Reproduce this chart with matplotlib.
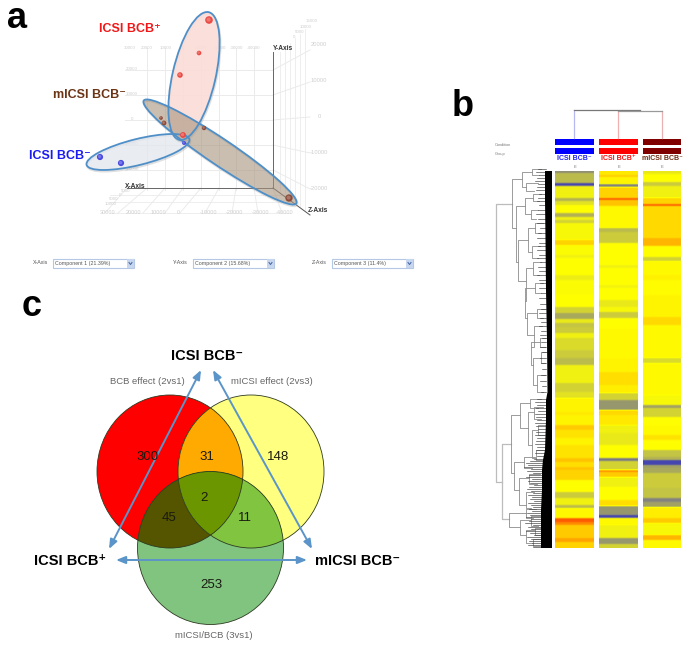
import numpy as np
import matplotlib
matplotlib.use("Agg")
import matplotlib.pyplot as plt
from matplotlib.colors import LinearSegmentedColormap
from matplotlib.patches import Ellipse, Polygon, Rectangle

plt.rcParams["font.family"] = ["Liberation Sans", "DejaVu Sans"]

# ---- panel a: PCA points and group ellipses
PCA_GROUPS = ["ICSI BCB⁻", "ICSI BCB⁺", "mICSI BCB⁻"]
PCA_COLORS = ["#4a4ae0", "#ea4a44", "#8c4a38"]
pca_x = [[100, 121, 184], [209, 199, 180, 183], [161, 164, 204, 289]]
pca_y = [[157, 163, 143], [20, 53, 75, 135], [118, 123, 128, 198]]
pca_s = [[20, 20, 8], [30, 11, 16, 18], [7, 12, 10, 28]]

ell_cx = [138, 194, 220]
ell_cy = [152, 76, 152]
ell_len = [106, 131, 184]
ell_wid = [26, 43, 26]
ell_ang = [-14, -77, 34]
ell_fill = ["#e2e7ee", "#fadcd6", "#a8937c"]
ell_alpha = [0.75, 0.9, 0.6]

back_v = [147, 165, 183, 201, 219, 236, 254]
back_h = [70, 95, 120, 145, 170]
top_ticks = ["30000", "20000", "10000", "0", "-10000", "-20000", "-30000", "-40000"]
top_ticks_x = [130, 147, 166, 183, 201, 219, 236, 254]
left_ticks = ["20000", "10000", "0", "-10000", "-20000"]
right_ticks = ["20000", "10000", "0", "-10000", "-20000"]
right_ticks_y = [45, 81, 117, 153, 189]
wall_end_y = [50, 82, 117, 153, 189]
bottom_ticks_x = [108, 133, 158, 178, 209, 234, 260, 285]
floor_end_x = [105, 118, 143, 165, 180, 205, 232, 258, 282]
floor_start_x = [127, 147, 165, 183, 201, 219, 236, 254, 273]
floor_h = [195, 202, 213]
wall_v = [280, 285, 290, 295, 300, 305]

combo_labels = ["X-Axis", "Y-Axis", "Z-Axis"]
combo_items = ["Component 1 (21.39%)", "Component 2 (15.68%)", "Component 3 (11.4%)"]
combo_x = [53, 193, 332]

# ---- panel b: heatmap bands, row edges in picture rows, one value per band
heat_names = ["ICSI BCB⁻", "ICSI BCB⁺", "mICSI BCB⁻"]
heat_colors = ["#0000ff", "#ff0000", "#800000"]
heat_label_colors = ["#2020f0", "#f01010", "#6b2c14"]
heat_x0 = [555, 599, 643]
heat_x1 = [594, 638, 681]

col1_edges = [171, 173, 183, 186, 198, 201, 205, 213, 217, 220, 223, 240, 245, 255, 258, 275,
              280, 295, 307, 313, 319, 323, 327, 333, 338, 350, 358, 365, 383, 392, 398,
              412, 415, 425, 430, 438, 445, 458, 462, 467, 470, 480, 492, 498, 505, 508,
              518, 522, 525, 538, 542, 548]
col1_vals = [-0.7, -0.45, -1.0, -0.1, -0.5, -0.2, 0.0, -0.5, -0.1, -0.3, -0.05, 0.4, -0.03,
             -0.1, 0.0, -0.12, -0.03, 0.0, -0.3, -0.55, -0.15, -0.4, -0.35, -0.1, -0.25,
             -0.35, -0.45, -0.1, -0.3, -0.2, 0.1, 0.2, 0.1, 0.45, 0.25, 0.1, 0.25, 0.5,
             0.3, 0.5, 0.4, 0.0, -0.35, -0.1, -0.45, 0.05, 1.0, 0.8, 0.45, 0.7, 0.4]
col2_edges = [171, 175, 177, 184, 187, 198, 200, 206, 228, 232, 243, 265, 268, 285, 288, 300,
              307, 312, 318, 328, 358, 372, 385, 393, 400, 410, 415, 425, 433, 445, 458,
              461, 470, 472, 477, 487, 500, 506, 515, 518, 525, 538, 544, 548]
col2_vals = [0.2, 0.45, 0.1, -0.75, 0.4, 1.0, 0.5, 0.05, -0.45, -0.35, 0.0, -0.1, 0.0, -0.08,
             0.0, -0.15, -0.05, -0.35, 0.0, 0.05, 0.1, 0.3, 0.15, -0.3, -0.65, 0.35, 0.2,
             -0.1, -0.15, 0.0, -0.8, -0.3, 0.8, 0.45, -0.1, 0.0, 0.3, -0.65, -1.0, 0.05,
             -0.1, -0.65, -0.3]
col3_edges = [171, 174, 182, 186, 198, 204, 206, 238, 246, 257, 261, 275, 280, 295, 317, 325,
              358, 363, 395, 405, 408, 417, 425, 435, 440, 450, 457, 460, 465, 468, 473,
              488, 498, 502, 507, 518, 523, 535, 540, 548]
col3_vals = [-0.15, 0.0, -0.35, -0.1, 0.4, 1.0, 0.35, 0.6, 0.0, -0.3, 0.05, 0.12, 0.03, 0.1,
             0.35, 0.05, -0.25, 0.05, -0.05, -0.6, -0.3, 0.0, 0.05, 0.25, 0.0, -0.4, -0.5,
             -1.0, -0.6, -0.55, -0.35, -0.4, -0.75, -0.6, 0.15, 0.45, -0.05, 0.6, 0.05]

# row dendrogram: node x, top y, bottom y, child x at top, child x at bottom
row_merges = [
    (496, 204, 482, 512, 502), (512, 179, 228, 522, 516), (522, 172, 187, 532, 526),
    (532, 169, 175, 541, 539), (526, 183, 191, 538, 534), (516, 206, 262, 525, 518),
    (525, 198, 214, 533, 531), (533, 194, 201, 541, 539), (531, 210, 219, 538, 536),
    (518, 240, 281, 528, 526), (528, 228, 252, 535, 532), (535, 223, 233, 543, 541),
    (532, 246, 258, 540, 538), (526, 268, 301, 533, 525), (533, 262, 275, 541, 539),
    (525, 288, 318, 535, 527), (535, 283, 293, 543, 541), (527, 313, 335, 537, 534),
    (537, 309, 318, 545, 543), (534, 326, 347, 542, 531), (531, 342, 365, 540, 533),
    (540, 338, 347, 546, 545), (533, 358, 385, 541, 537), (541, 352, 363, 547, 545),
    (537, 375, 392, 545, 543), (502, 444, 519, 511, 509), (511, 415, 473, 520, 514),
    (520, 403, 428, 530, 528), (530, 399, 408, 541, 538), (528, 412, 445, 534, 532),
    (534, 407, 419, 543, 541), (532, 430, 458, 538, 536), (538, 425, 435, 546, 544),
    (536, 450, 460, 544, 543), (514, 462, 490, 524, 519), (524, 457, 468, 535, 532),
    (519, 478, 505, 529, 526), (529, 474, 484, 540, 537), (526, 492, 508, 534, 531),
    (509, 513, 527, 526, 520), (526, 509, 518, 536, 533), (520, 520, 535, 531, 526),
    (531, 516, 526, 541, 538), (526, 530, 543, 535, 533), (535, 528, 535, 544, 542),
    (533, 539, 546, 543, 541),
]
comb_y = [171, 200, 240, 290, 340, 392, 400, 420, 450, 460, 470, 490, 510, 530, 548]
comb_x = [545, 545, 545.5, 546, 547, 547.5, 546, 546, 545, 543, 542, 542, 541, 541, 541]
# thin leaf lines running into the black comb: row, left end
hair_y = [169, 172, 175, 178, 181, 184, 187, 190, 194, 198, 201, 205, 210, 214, 219, 223, 228,
          233, 238, 243, 246, 250, 255, 258, 262, 267, 271, 275, 280, 283, 288, 293, 298, 304,
          309, 313, 318, 322, 326, 331, 335, 338, 342, 347, 352, 358, 363, 369, 375, 381, 386,
          392, 399, 402, 405, 408, 411, 414, 417, 420, 423, 426, 429, 432, 435, 438, 441, 444,
          447, 450, 453, 456, 459, 461, 463, 465, 467, 469, 471, 473, 475, 477, 479, 481, 483,
          485, 487, 489, 491, 493, 495, 497, 499, 501, 503, 505, 507, 509, 511, 513, 515, 517,
          519, 521, 523, 525, 527, 529, 531, 533, 535, 537, 539, 541, 543, 545, 547]
hair_x = [538, 536, 539, 537, 535, 538, 537, 536, 539, 538, 537, 539, 538, 536, 538, 537, 540,
          538, 537, 539, 538, 537, 539, 537, 540, 538, 539, 537, 539, 540, 539, 541, 539, 540,
          541, 539, 540, 541, 539, 541, 540, 542, 541, 540, 542, 540, 541, 542, 541, 540, 542,
          541, 537, 535, 537, 536, 538, 535, 536, 537, 535, 536, 538, 536, 535, 537, 536, 535,
          537, 536, 535, 537, 534, 530, 526, 528, 524, 531, 527, 533, 529, 526, 532, 528, 530,
          534, 529, 527, 531, 533, 528, 532, 530, 534, 528, 531, 533, 529, 532, 527, 530, 526,
          531, 529, 525, 533, 528, 531, 526, 530, 534, 527, 531, 529, 532, 528, 533]

# ---- panel c: venn circles and counts
venn_cx = [170, 251, 210.5]
venn_cy = [471.5, 471.5, 548]
venn_w = [146, 146, 146]
venn_h = [153, 153, 153]
venn_counts = ["300", "31", "148", "2", "45", "11", "253"]
venn_count_x = [148, 207, 278, 204, 169, 245, 211]
venn_count_y = [457, 457, 457, 498, 518, 518, 585]
venn_titles = ["BCB effect (2vs1)", "mICSI effect (2vs3)", "mICSI/BCB (3vs1)"]
venn_title_x = [147, 272, 214]
venn_title_y = [382, 382, 636]
arrow_start_x = [109, 213, 116]
arrow_start_y = [549, 370, 560]
arrow_end_x = [201, 312, 307]
arrow_end_y = [370, 549, 560]

fig = plt.figure(figsize=(6.97, 6.46), dpi=100)
ax = fig.add_axes([0, 0, 1, 1])
ax.set_xlim(0, 697)
ax.set_ylim(646, 0)
ax.axis("off")


def txt(x, y, s, size, color="black", weight="normal", ha="center", va="center", **kw):
    ax.text(x, y, s, fontsize=size, color=color, fontweight=weight, ha=ha, va=va, **kw)


def ellipse_points(i):
    t = np.linspace(0, 2 * np.pi, 400)
    return venn_cx[i] + venn_w[i] / 2 * np.cos(t), venn_cy[i] + venn_h[i] / 2 * np.sin(t)


def inside(x, y, i):
    return ((x - venn_cx[i]) / (venn_w[i] / 2)) ** 2 + ((y - venn_cy[i]) / (venn_h[i] / 2)) ** 2 <= 1


def region(ids):
    # intersection of the circles: keep boundary points inside all others, sort round the middle
    xs, ys = [], []
    for i in ids:
        x, y = ellipse_points(i)
        keep = np.ones(len(x), bool)
        for j in ids:
            if j != i:
                keep &= inside(x, y, j)
        xs.append(x[keep])
        ys.append(y[keep])
    xs, ys = np.concatenate(xs), np.concatenate(ys)
    order = np.argsort(np.arctan2(ys - ys.mean(), xs - xs.mean()))
    return np.column_stack([xs[order], ys[order]])


# panel letters
txt(7, 18, "a", 26, weight="bold", ha="left")
txt(452, 106, "b", 26, weight="bold", ha="left")
txt(22, 306, "c", 26, weight="bold", ha="left")

# ---- panel a
grid_c = "#ebebeb"
for x in back_v:
    ax.plot([x, x], [48, 190], color=grid_c, lw=0.7, zorder=1)
for y in back_h:
    ax.plot([125, 273], [y, y], color=grid_c, lw=0.7, zorder=1)
for y, y_end in zip(back_h, wall_end_y):
    ax.plot([273, 310], [y, y_end], color=grid_c, lw=0.7, zorder=1)
for x in wall_v:
    ax.plot([x, x], [58 - (x - 273) * 0.9, 188 + (x - 273) * 0.7], color=grid_c, lw=0.6, zorder=1)
for x0, x1 in zip(floor_start_x, floor_end_x):
    ax.plot([x0, x1], [188, 213], color=grid_c, lw=0.7, zorder=1)
for y in floor_h:
    ax.plot([110, 290], [y, y], color=grid_c, lw=0.6, zorder=1)
ax.plot([127, 273], [188, 188], color="#666666", lw=0.7, zorder=2)
ax.plot([273, 273], [52, 188], color="#666666", lw=0.7, zorder=2)
ax.plot([273, 310], [188, 215], color="#555555", lw=0.7, zorder=2)

tick_c = "#cfcfcf"
for s, x in zip(top_ticks, top_ticks_x):
    txt(x, 48, s, 3.2, tick_c)
for s, y in zip(left_ticks, back_h):
    txt(132, y - 1, s, 3.2, tick_c)
for s, y in zip(right_ticks, right_ticks_y):
    txt(319, y, s, 4.2, tick_c)
for s, x in zip(top_ticks, bottom_ticks_x):
    txt(x, 213, s, 4.0, tick_c)
for s, x, y in zip(["15000", "10000", "5000", "0"], [312, 306, 300, 294], [21, 27, 32, 37]):
    txt(x, y, s, 3.2, tick_c)
for s, x, y in zip(["5000", "0", "5000", "10000"], [126, 120, 114, 111], [191, 195, 199, 204]):
    txt(x, y, s, 3.2, tick_c)
txt(135, 186, "X-Axis", 4.8, "#333333", "bold")
txt(283, 48, "Y-Axis", 4.8, "#333333", "bold")
txt(318, 211, "Z-Axis", 4.8, "#333333", "bold")

for i in range(3):
    # soft shadow under the ellipse, then fill, then outline
    ax.add_patch(Ellipse((ell_cx[i] + 0.8, ell_cy[i] + 1.5), ell_len[i], ell_wid[i], angle=ell_ang[i],
                         fc="none", ec="#999999", lw=1.5, alpha=0.3, zorder=3))
    ax.add_patch(Ellipse((ell_cx[i], ell_cy[i]), ell_len[i], ell_wid[i], angle=ell_ang[i],
                         fc=ell_fill[i], alpha=ell_alpha[i], ec="none", zorder=3 + i * 0.1))
for i in range(3):
    ax.add_patch(Ellipse((ell_cx[i], ell_cy[i]), ell_len[i], ell_wid[i], angle=ell_ang[i],
                         fc="none", ec="#4f8fc8", lw=1.3, zorder=4))
for i in range(3):
    ax.scatter(pca_x[i], pca_y[i], s=pca_s[i], color=PCA_COLORS[i], lw=0, zorder=5)
    ax.scatter(np.array(pca_x[i]) - 0.4, np.array(pca_y[i]) - 0.4, s=np.array(pca_s[i]) * 0.3,
               color="white", alpha=0.25, lw=0, zorder=6)

txt(130, 29, PCA_GROUPS[1], 9, "#f01818", "bold")
txt(89, 95, PCA_GROUPS[2], 9, "#6b3415", "bold")
txt(60, 156, PCA_GROUPS[0], 9, "#1c1cf0", "bold")

for i in range(3):
    x = combo_x[i]
    txt(x - 5, 263, combo_labels[i], 3.8, "#555555", ha="right")
    ax.add_patch(Rectangle((x, 259), 81, 9, fc="white", ec="#b4c8e4", lw=0.8, zorder=2))
    ax.add_patch(Rectangle((x + 74, 259), 7, 9, fc="#c6d6ee", ec="none", zorder=3))
    txt(x + 2, 263.5, combo_items[i], 3.8, "#555555", ha="left", zorder=4)
    ax.plot([x + 76, x + 77.5, x + 79], [262.5, 264.5, 262.5], color="#4060a0", lw=0.7, zorder=4)

# ---- panel b
heat_cmap = LinearSegmentedColormap.from_list("heat", [
    (0.0, "#4646b0"), (0.14, "#8c8c78"), (0.3, "#c4c444"), (0.42, "#e8e81c"), (0.5, "#ffff00"),
    (0.7, "#ffd400"), (0.85, "#ffa400"), (1.0, "#ff5a00")])
heat_edges = [col1_edges, col2_edges, col3_edges]
heat_vals = [col1_vals, col2_vals, col3_vals]
for i in range(3):
    # one value per picture row, softened a little over neighbouring rows like the source image
    rows = np.repeat(heat_vals[i], np.diff(heat_edges[i]))
    rows = np.convolve(np.pad(rows, 1, mode="edge"), [0.22, 0.56, 0.22], mode="valid")
    ax.imshow(rows.reshape(-1, 1), cmap=heat_cmap, vmin=-1, vmax=1, aspect="auto", interpolation="nearest",
              extent=[heat_x0[i], heat_x1[i], heat_edges[i][-1], heat_edges[i][0]], zorder=2)
    ax.add_patch(Rectangle((heat_x0[i], 139), heat_x1[i] - heat_x0[i], 6, fc=heat_colors[i], ec="none"))
    ax.add_patch(Rectangle((heat_x0[i], 148), heat_x1[i] - heat_x0[i], 6, fc=heat_colors[i], ec="none"))
    txt((heat_x0[i] + heat_x1[i]) / 2, 159, heat_names[i], 5, heat_label_colors[i], "bold")
    txt((heat_x0[i] + heat_x1[i]) / 2, 166.5, "E", 3, "#777777")
ax.set_xlim(0, 697)
ax.set_ylim(646, 0)
txt(495, 144.5, "Condition", 2.8, "#777777", ha="left")
txt(495, 153.5, "Group", 2.8, "#777777", ha="left")

# column dendrogram
ax.plot([574, 574], [110, 138], color="#b8b8f0", lw=0.9)
ax.plot([618, 618], [111, 138], color="#f0b0b0", lw=0.9)
ax.plot([662, 662], [111, 138], color="#e8b0b0", lw=0.9)
ax.plot([574, 640], [109.5, 109.5], color="#777777", lw=0.9)
ax.plot([618, 662], [111, 111], color="#999999", lw=0.9)

# row dendrogram
for x, y0, y1, cx0, cx1 in row_merges:
    lw = 0.9 if x < 505 else 0.6
    col = "#bcbcbc" if x < 505 else "#8c8c8c"
    ax.plot([cx0, x, x, cx1], [y0, y0, y1, y1], color=col, lw=lw, zorder=1)
for y, x in zip(hair_y, hair_x):
    ax.plot([x, 546], [y, y], color="#3c3c3c", lw=0.45, zorder=1.5)
ax.add_patch(Polygon(np.column_stack([comb_x + [552, 552], comb_y + [548, 171]]), fc="black", ec="none", zorder=2))

# ---- panel c
ax.add_patch(Ellipse((venn_cx[0], venn_cy[0]), venn_w[0], venn_h[0], fc="#ff0000", ec="none", zorder=2))
ax.add_patch(Ellipse((venn_cx[1], venn_cy[1]), venn_w[1], venn_h[1], fc="#ffff80", ec="none", zorder=2))
ax.add_patch(Ellipse((venn_cx[2], venn_cy[2]), venn_w[2], venn_h[2], fc="#80c480", ec="none", zorder=2))
ax.add_patch(Polygon(region([0, 1]), fc="#ffaa00", ec="none", zorder=3))
ax.add_patch(Polygon(region([0, 2]), fc="#555500", ec="none", zorder=3))
ax.add_patch(Polygon(region([1, 2]), fc="#80c440", ec="none", zorder=3))
ax.add_patch(Polygon(region([0, 1, 2]), fc="#6b9600", ec="none", zorder=4))
for i in range(3):
    ax.add_patch(Ellipse((venn_cx[i], venn_cy[i]), venn_w[i], venn_h[i], fc="none", ec="#2c3a20", lw=0.6, zorder=5))
for s, x, y in zip(venn_counts, venn_count_x, venn_count_y):
    txt(x, y, s, 9.5, "#1a1a10", zorder=8)
for s, x, y in zip(venn_titles, venn_title_x, venn_title_y):
    txt(x, y, s, 6.8, "#666666", zorder=8)
for x0, y0, x1, y1 in zip(arrow_start_x, arrow_start_y, arrow_end_x, arrow_end_y):
    ax.annotate("", xy=(x1, y1), xytext=(x0, y0), zorder=7,
                arrowprops=dict(arrowstyle="<|-|>,head_width=0.22,head_length=0.55", color="#5b94c8",
                                lw=1.4, shrinkA=0, shrinkB=0))
txt(207, 356, "ICSI BCB⁻", 10.5, "black", "bold")
txt(70, 561, "ICSI BCB⁺", 10.5, "black", "bold")
txt(358, 561, "mICSI BCB⁻", 10.5, "black", "bold")

fig.savefig("out.png", dpi=100)
